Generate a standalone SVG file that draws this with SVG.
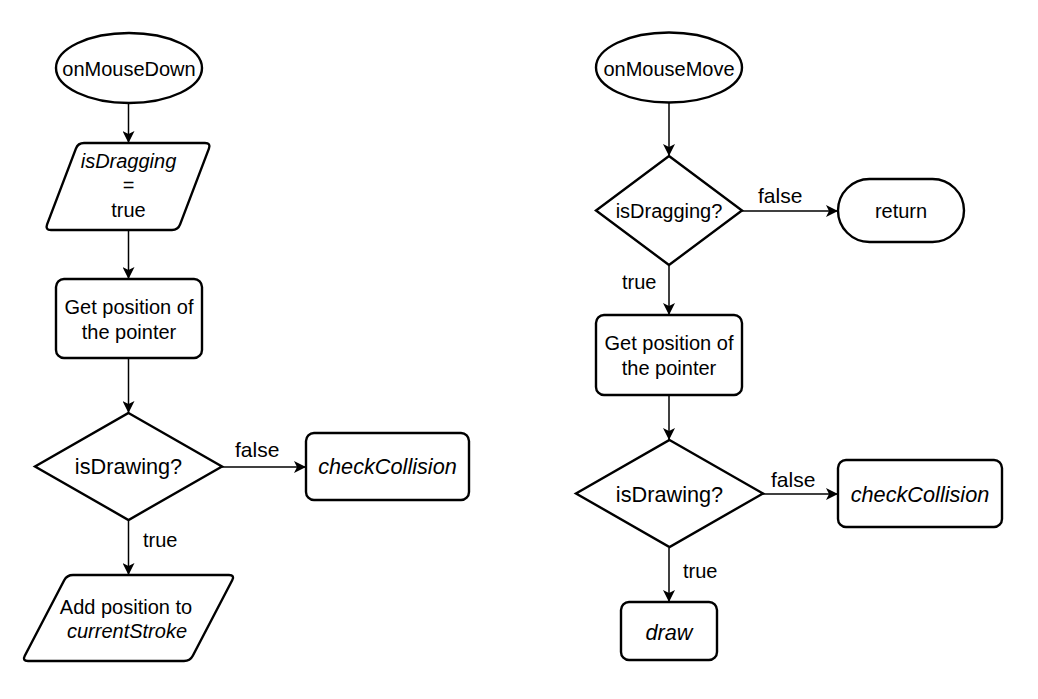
<svg xmlns="http://www.w3.org/2000/svg" width="1038" height="699" viewBox="0 0 1038 699">
<defs>
<style>
.shape{fill:#fff;stroke:#000;stroke-width:2.4}
.conn{fill:none;stroke:#000;stroke-width:1.5}
text{font-family:"Liberation Sans",Arial,Helvetica,sans-serif;font-size:20px;fill:#000}
.c{text-anchor:middle}
.it{font-style:italic}
.big{font-size:21.7px}
</style>
<marker id="arr" markerUnits="userSpaceOnUse" markerWidth="12" markerHeight="12" viewBox="0 0 10 10" refX="10" refY="5" orient="auto">
<path d="M0,0 L10,5 L0,10 L2.5,5 Z" fill="#000"/>
</marker>
</defs>
<rect width="1038" height="699" fill="#fff"/>
<g id="connectors">
<line class="conn" x1="128.5" y1="104" x2="128.5" y2="143" marker-end="url(#arr)"/>
<line class="conn" x1="128.5" y1="231" x2="128.5" y2="279" marker-end="url(#arr)"/>
<line class="conn" x1="128.5" y1="359" x2="128.5" y2="413" marker-end="url(#arr)"/>
<line class="conn" x1="222" y1="467" x2="306" y2="467" marker-end="url(#arr)"/>
<line class="conn" x1="128.5" y1="521" x2="128.5" y2="575" marker-end="url(#arr)"/>
<line class="conn" x1="669" y1="103" x2="669" y2="156" marker-end="url(#arr)"/>
<line class="conn" x1="742" y1="211" x2="838" y2="211" marker-end="url(#arr)"/>
<line class="conn" x1="669" y1="266" x2="669" y2="315" marker-end="url(#arr)"/>
<line class="conn" x1="669" y1="396" x2="669" y2="440" marker-end="url(#arr)"/>
<line class="conn" x1="763" y1="494" x2="838" y2="494" marker-end="url(#arr)"/>
<line class="conn" x1="669" y1="548" x2="669" y2="602" marker-end="url(#arr)"/>
<text x="235" y="457" style="font-size:21px">false</text>
<text x="143" y="547">true</text>
<text x="758" y="203" style="font-size:21px">false</text>
<text x="622" y="289">true</text>
<text x="771" y="487" style="font-size:21px">false</text>
<text x="683" y="578">true</text>
</g>
<g id="onMouseDown">
<ellipse class="shape" cx="129" cy="68" rx="73" ry="35"/>
<text class="c" x="129" y="76">onMouseDown</text>
</g>
<g id="setDragging">
<path class="shape" d="M84,143 L205,143 Q211,143 208.9,148.6 L180.1,224.4 Q178,230 172,230 L51,230 Q45,230 47.1,224.4 L75.9,148.6 Q78,143 84,143 Z"/>
<text class="c it" x="128.5" y="168">isDragging</text>
<text class="c" x="128.5" y="192">=</text>
<text class="c" x="128.5" y="217">true</text>
</g>
<g id="getPos1">
<rect class="shape" x="56" y="279" width="146" height="79" rx="8"/>
<text class="c" x="129" y="314">Get position of</text>
<text class="c" x="129" y="339">the pointer</text>
</g>
<g id="isDrawing1">
<polygon class="shape" points="128.5,413 222,466.5 128.5,520 35,466.5"/>
<text class="c big" x="128.5" y="474">isDrawing?</text>
</g>
<g id="checkCollision1">
<rect class="shape" x="306" y="433" width="163" height="67" rx="8"/>
<text class="c it big" x="387.5" y="474">checkCollision</text>
</g>
<g id="addPosition">
<path class="shape" d="M73,575 L229,575 Q235,575 232.2,580.3 L192.8,655.7 Q190,661 184,661 L28,661 Q22,661 24.8,655.7 L64.2,580.3 Q67,575 73,575 Z"/>
<text class="c" x="126" y="614">Add position to</text>
<text class="c it" x="127" y="638">currentStroke</text>
</g>
<g id="onMouseMove">
<ellipse class="shape" cx="669" cy="67.5" rx="73" ry="35"/>
<text class="c" x="669" y="76">onMouseMove</text>
</g>
<g id="isDragging">
<polygon class="shape" points="669,156 742,210.5 669,265 596,210.5"/>
<text class="c" x="669" y="218">isDragging?</text>
</g>
<g id="return">
<rect class="shape" x="838" y="179" width="126" height="63" rx="31.5"/>
<text class="c" x="901" y="218">return</text>
</g>
<g id="getPos2">
<rect class="shape" x="596" y="315" width="146" height="80" rx="8"/>
<text class="c" x="669" y="350">Get position of</text>
<text class="c" x="669" y="375">the pointer</text>
</g>
<g id="isDrawing2">
<polygon class="shape" points="669.5,440 763,493.5 669.5,547 576,493.5"/>
<text class="c big" x="669.5" y="502">isDrawing?</text>
</g>
<g id="checkCollision2">
<rect class="shape" x="838" y="460" width="164" height="67" rx="8"/>
<text class="c it big" x="920" y="502">checkCollision</text>
</g>
<g id="draw">
<rect class="shape" x="621" y="602" width="96" height="58" rx="8"/>
<text class="c it big" x="669" y="640">draw</text>
</g>
</svg>
